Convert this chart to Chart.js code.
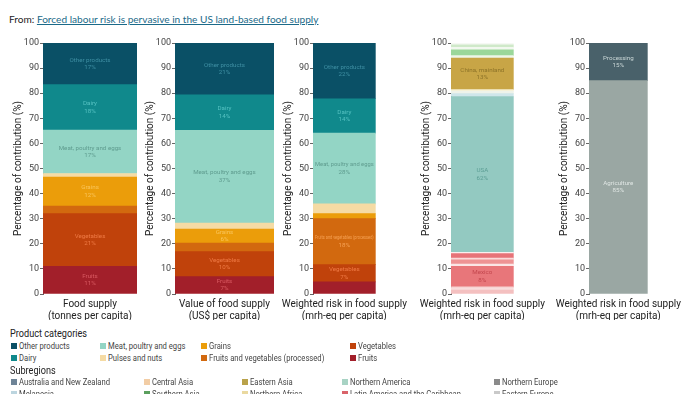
<!DOCTYPE html>
<html><head><meta charset="utf-8">
<script src="https://cdn.jsdelivr.net/npm/chart.js@4"></script>
<style>
html,body{margin:0;padding:0;background:#fff;}
body{width:700px;height:394px;overflow:hidden;position:relative;}
.hdr{position:absolute;left:9px;top:13px;font-family:Lato,'Open Sans',sans-serif;font-size:10.1px;color:#222;white-space:nowrap;}
.hdr a{color:#1b6a89;text-decoration:underline;}
canvas{position:absolute;}
.lh{position:absolute;left:10px;font-family:Roboto,'Noto Sans',sans-serif;font-size:10.5px;color:#222;white-space:nowrap;transform:scaleX(0.87);transform-origin:0 0;}
.li{position:absolute;font-family:Roboto,sans-serif;font-size:9px;color:#444;white-space:nowrap;line-height:10px;}
.li span{display:inline-block;transform:scaleX(0.85);transform-origin:0 0;}
.li i{position:absolute;left:-8px;top:2px;width:6px;height:6px;}
</style>
</head><body>
<div class="hdr">From: <a>Forced labour risk is pervasive in the US land-based food supply</a></div>
<canvas id="c0"></canvas><canvas id="c1"></canvas><canvas id="c2"></canvas><canvas id="c3"></canvas><canvas id="c4"></canvas>
<div id="legend"></div>
<script>
// ---------- DATA ----------
const productCategories = ['Fruits','Vegetables','Fruits and vegetables (processed)','Grains','Pulses and nuts','Meat, poultry and eggs','Dairy','Other products'];
const foodSupply        = [11.0, 21.0, 3.0, 11.6, 1.4, 17.3, 18.1, 16.6];
const valueOfFoodSupply = [6.9, 10.0, 3.4, 5.6, 2.4, 36.9, 14.2, 20.6];
const riskByProduct     = [4.8, 6.9, 18.3, 2.0, 3.9, 28.2, 13.7, 22.2];

const countryNames = ['', '', '', 'Mexico', '', '', '', '', '', 'USA', '', '', '', 'China, mainland', '', '', '', '', ''];
const countrySubregions = ['Latin America and the Caribbean','Latin America and the Caribbean','Latin America and the Caribbean','Latin America and the Caribbean','Latin America and the Caribbean','Latin America and the Caribbean','Latin America and the Caribbean','Latin America and the Caribbean','Latin America and the Caribbean','Northern America','Melanesia','Central Asia','Northern Africa','Eastern Asia','Eastern Europe','Southern Asia','Eastern Europe','Southern Asia','Eastern Europe'];
const riskByCountry = [1.6, 1.0, 0.4, 8.0, 0.9, 1.7, 0.7, 1.8, 0.5, 62.1, 1.1, 1.0, 0.6, 12.6, 1.0, 2.3, 1.0, 1.0, 0.7];

const stages = ['Agriculture', 'Processing'];
const riskByStage = [85, 15];

const xAxisLabels = [
  ['Food supply', '(tonnes per capita)'],
  ['Value of food supply', '(US$ per capita)'],
  ['Weighted risk in food supply', '(mrh-eq per capita)'],
  ['Weighted risk in food supply', '(mrh-eq per capita)'],
  ['Weighted risk in food supply', '(mrh-eq per capita)']
];
const yTicks = [0, 10, 20, 30, 40, 50, 60, 70, 80, 90, 100];
const yAxisTitle = 'Percentage of contribution (%)';

const subregions = ['Australia and New Zealand','Melanesia','Central Asia','Southern Asia','Eastern Asia','Northern Africa','Northern America','Latin America and the Caribbean','Northern Europe','Eastern Europe'];
const legendProductOrder = ['Other products','Dairy','Meat, poultry and eggs','Pulses and nuts','Grains','Fruits and vegetables (processed)','Vegetables','Fruits'];

// ---------- STYLE ----------
const productColors = ['#a21f2a','#c0420b','#d2690f','#eb9d0a','#f5dba4','#93d5c5','#10898c','#0a5066'];
const productTextColors = ['#d95a62','#ef7a45','#f6a153','#fac55a','#c9b07a','#5f9c8f','#55c2c2','#3f8fa3'];
const countryColors = ['#f4c0c0','#f9dcdc','#f1a9a9','#e8767a','#fbe6e6','#ee9394','#fadada','#e77378','#fbeeee','#93c9c1','#cfe6ea','#eef3ea','#f7f0d2','#c8a546','#eef6e8','#9bd79a','#f2f8ef','#cfe9c9','#f6f9f4'];
const countryTextColors = countryColors.map(()=>null);
countryTextColors[3] = '#c4474e'; countryTextColors[9] = '#5c9e95'; countryTextColors[13] = '#8d7328';
const stageColors = ['#9aa7a3', '#49616a'];
const stageTextColors = ['#dfe6e3', '#c9d6d6'];
const subregionColors = ['#6e8497','#bcd5df','#f2cda5','#5b9f5e','#b9a24a','#ead9a0','#a8d3c4','#d9636a','#8a8a8a','#c9c9c9'];

const FONT = 'Roboto, "Noto Sans", sans-serif';
const panels = [
  {axis: 42.5, plotW: 93.5},
  {axis: 174.5, plotW: 99},
  {axis: 312.5, plotW: 97.5},
  {axis: 450.5, plotW: 97.5},
  {axis: 588.5, plotW: 95.5}
];
const CANVAS_TOP = 33, CANVAS_BOTTOM = 320, Y_W = 40;

const segLabels = {
  id: 'segLabels',
  afterDatasetsDraw(chart) {
    const ctx = chart.ctx;
    ctx.save();
    ctx.textAlign = 'center';
    ctx.textBaseline = 'middle';
    ctx.font = '6.2px ' + FONT;
    chart.data.datasets.forEach((ds, i) => {
      const v = ds.data[0];
      if (!ds.showName || v < 5 || !ds.textColor) return;
      const el = chart.getDatasetMeta(i).data[0];
      const cy = (el.y + el.base) / 2;
      const maxW = el.width - 4;
      ctx.fillStyle = ds.textColor;
      ctx.fillText(ds.label, el.x, cy - 3.8, maxW);
      ctx.fillText(Math.round(v) + '%', el.x, cy + 3.8, maxW);
    });
    ctx.restore();
  }
};

function makeChart(idx, names, values, colors, textColors, showNames) {
  const p = panels[idx];
  const cv = document.getElementById('c' + idx);
  const w = Math.round(Y_W + p.plotW);
  cv.width = w; cv.height = CANVAS_BOTTOM - CANVAS_TOP;
  cv.style.left = (p.axis - Y_W) + 'px';
  cv.style.top = CANVAS_TOP + 'px';
  cv.style.width = w + 'px'; cv.style.height = (CANVAS_BOTTOM - CANVAS_TOP) + 'px';
  new Chart(cv, {
    type: 'bar',
    data: {
      labels: [xAxisLabels[idx]],
      datasets: names.map((n, i) => ({
        label: n, data: [values[i]], backgroundColor: colors[i], borderWidth: 0,
        barPercentage: 1, categoryPercentage: 1, textColor: textColors[i], showName: showNames && n !== ''
      }))
    },
    options: {
      responsive: false, animation: false, devicePixelRatio: 1,
      layout: {padding: {top: 10, right: 0, left: 0, bottom: 0}},
      plugins: {legend: {display: false}, tooltip: {enabled: false}},
      scales: {
        x: {
          stacked: true,
          grid: {display: false, drawTicks: false},
          border: {display: false},
          ticks: {font: {size: 10, family: FONT}, color: '#222', padding: 4, maxRotation: 0, autoSkip: false},
          afterFit(s) { s.height = 26; }
        },
        y: {
          stacked: true, min: 0, max: 100,
          afterBuildTicks(s) { s.ticks = yTicks.map(v => ({value: v})); },
          ticks: {font: {size: 9, family: FONT}, color: '#444', padding: 1},
          grid: {display: true, drawOnChartArea: false, tickLength: 3, color: '#666'},
          border: {color: '#666'},
          title: {display: true, text: yAxisTitle, font: {size: 10, family: FONT}, color: '#222', padding: {top: 9, bottom: 0}},
          afterFit(s) { s.width = Y_W; }
        }
      }
    },
    plugins: [segLabels]
  });
}

makeChart(0, productCategories, foodSupply, productColors, productTextColors, true);
makeChart(1, productCategories, valueOfFoodSupply, productColors, productTextColors, true);
makeChart(2, productCategories, riskByProduct, productColors, productTextColors, true);
makeChart(3, countryNames, riskByCountry, countryColors, countryTextColors, true);
makeChart(4, stages, riskByStage, stageColors, stageTextColors, true);

// ---------- LEGEND (HTML text) ----------
const lg = document.getElementById('legend');
function addHead(text, top) {
  const d = document.createElement('div'); d.className = 'lh'; d.textContent = text; d.style.top = top + 'px'; lg.appendChild(d);
}
function addItem(text, color, left, top) {
  const d = document.createElement('div'); d.className = 'li';
  d.style.left = left + 'px'; d.style.top = top + 'px';
  const sq = document.createElement('i'); sq.style.background = color; d.appendChild(sq);
  const sp = document.createElement('span'); sp.textContent = text; d.appendChild(sp);
  lg.appendChild(d);
}
addHead('Product categories', 327);
const prodCols = [19, 108, 209, 358];
legendProductOrder.forEach((n, k) => {
  const col = Math.floor(k / 2), row = k % 2;
  addItem(n, productColors[productCategories.indexOf(n)], prodCols[col], 341 + row * 12);
});
addHead('Subregions', 364);
const subCols = [19, 152, 250, 350, 502];
subregions.forEach((n, k) => {
  const col = Math.floor(k / 2), row = k % 2;
  addItem(n, subregionColors[k], subCols[col], 377 + row * 12);
});
</script>
</body></html>
